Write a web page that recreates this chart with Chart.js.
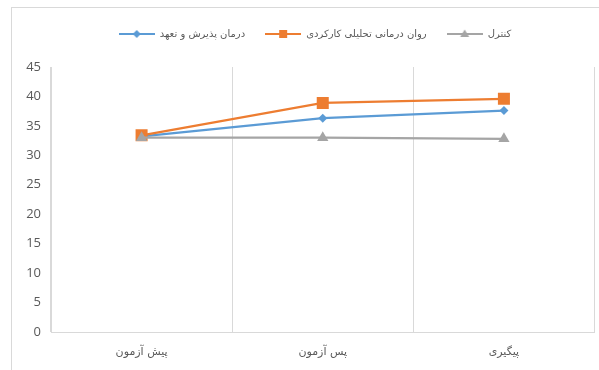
<!DOCTYPE html>
<html>
<head>
<meta charset="utf-8">
<script src="https://cdn.jsdelivr.net/npm/chart.js@4.4.1/dist/chart.umd.min.js"></script>
<style>
    html, body { margin: 0; padding: 0; background: #ffffff; }
    body { width: 599px; height: 370px; overflow: hidden; position: relative; }
    #frame { position: absolute; left: 11px; top: 7px; width: 700px; height: 500px; border: 1px solid #d9d9d9; }
    /* a bit wider than the page: room for the markers' overflow past the plot edge */
    #wrap { position: absolute; left: 0; top: 0; width: 603px; height: 370px; }
</style>
</head>
<body>
<div id="frame"></div>
<div id="wrap"><canvas id="chart"></canvas></div>
<script>
const categories = ['پیش آزمون', 'پس آزمون', 'پیگیری'];
const seriesNames = ['درمان پذیرش و تعهد', 'روان درمانی تحلیلی کارکردی', 'کنترل'];
const actValues = [33.2, 36.3, 37.6];
const fapValues = [33.4, 38.9, 39.6];
const controlValues = [33.0, 33.0, 32.8];
const yMin = 0;
const yMax = 45;
const yStep = 5;

const colors = ['#5B9BD5', '#ED7D31', '#A5A5A5'];
const markers = ['rectRot', 'rect', 'triangle'];
const markerSizes = [4.5, 8.5, 6.5];

// small canvas with line + marker, used as the legend symbol
function legendSymbol(color, style) {
    const c = document.createElement('canvas');
    c.width = 36;
    c.height = 14;
    const ctx = c.getContext('2d');
    ctx.strokeStyle = color;
    ctx.fillStyle = color;
    ctx.lineWidth = 2;
    ctx.beginPath();
    ctx.moveTo(0, 7);
    ctx.lineTo(36, 7);
    ctx.stroke();
    ctx.beginPath();
    if (style === 'rectRot') {
        ctx.moveTo(18, 3); ctx.lineTo(22, 7); ctx.lineTo(18, 11); ctx.lineTo(14, 7);
    } else if (style === 'rect') {
        ctx.rect(14, 3, 8, 8);
    } else {
        ctx.moveTo(18, 2.5); ctx.lineTo(22.5, 10); ctx.lineTo(13.5, 10);
    }
    ctx.closePath();
    ctx.fill();
    return c;
}

// extra room under the legend and a small shift right, like the original
const legendTweak = {
    id: 'legendTweak',
    afterInit(chart) {
        const legend = chart.legend;
        const fit = legend.fit;
        legend.fit = function () {
            fit.call(this);
            this.height += 18;
        };
    },
    afterLayout(chart) {
        chart.legend.left += 16;
        chart.legend.right += 16;
    }
};

const allValues = [actValues, fapValues, controlValues];

const datasets = allValues.map((vals, i) => ({
    label: seriesNames[i],
    data: vals,
    borderColor: colors[i],
    backgroundColor: colors[i],
    borderWidth: 2.25,
    pointStyle: markers[i],
    pointRadius: markerSizes[i],
    pointHoverRadius: markerSizes[i],
    pointBorderWidth: 0,
    tension: 0,
    order: 3 - i
}));

const ctx = document.getElementById('chart').getContext('2d');
new Chart(ctx, {
    type: 'line',
    data: {
        labels: categories,
        datasets: datasets
    },
    plugins: [legendTweak],
    options: {
        responsive: true,
        maintainAspectRatio: false,
        animation: false,
        events: [],
        layout: {
            padding: { left: 0, right: 5, top: 9, bottom: 0 }
        },
        plugins: {
            tooltip: { enabled: false },
            legend: {
                position: 'top',
                labels: {
                    usePointStyle: true,
                    pointStyleWidth: 36,
                    padding: 20,
                    color: '#595959',
                    font: { family: 'DejaVu Sans', size: 10 },
                    generateLabels: (chart) => chart.data.datasets.map((ds, i) => ({
                        text: ds.label,
                        pointStyle: legendSymbol(colors[i], markers[i]),
                        fillStyle: colors[i],
                        strokeStyle: colors[i],
                        lineWidth: 0,
                        fontColor: '#595959',
                        datasetIndex: i
                    }))
                }
            }
        },
        scales: {
            x: {
                offset: true,
                grid: {
                    offset: true,
                    color: '#d9d9d9',
                    drawTicks: false
                },
                border: { color: '#d9d9d9' },
                ticks: {
                    color: '#595959',
                    padding: 14,
                    font: { family: 'DejaVu Sans', size: 11 }
                },
                afterFit: (scale) => {
                    scale.height = 38;
                    scale.paddingLeft = 0;
                    scale.paddingRight = 0;
                }
            },
            y: {
                min: yMin,
                max: yMax,
                grid: { display: false },
                border: { display: true, color: '#d9d9d9' },
                ticks: {
                    stepSize: yStep,
                    color: '#595959',
                    padding: 2,
                    font: { family: 'Open Sans', size: 13 }
                },
                afterFit: (scale) => { scale.width = 51; }
            }
        }
    }
});
</script>
</body>
</html>
